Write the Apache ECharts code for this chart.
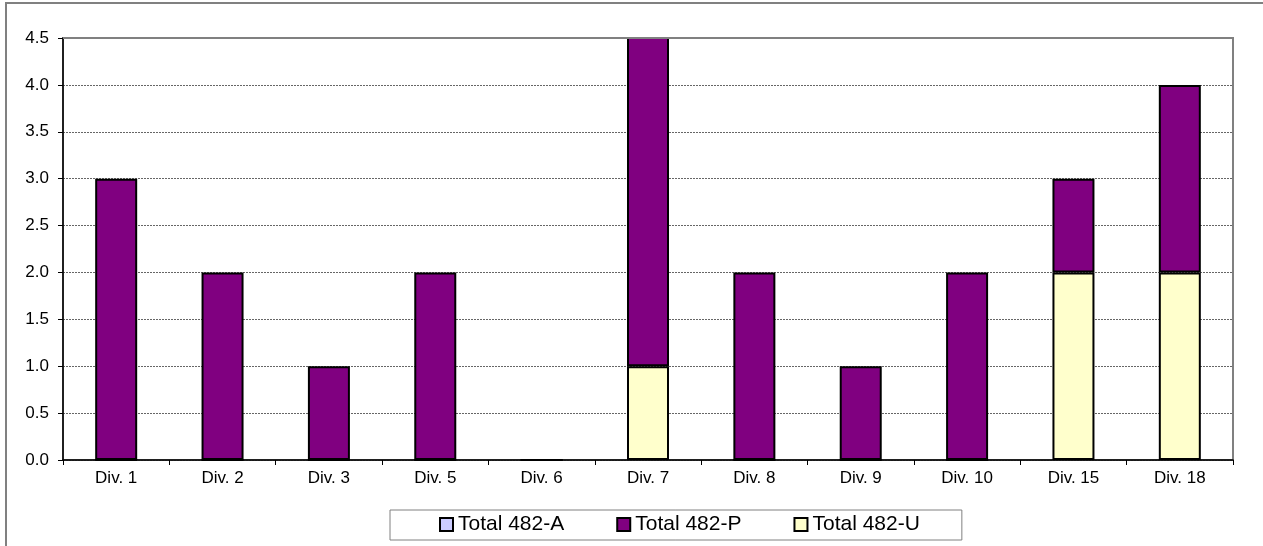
<!DOCTYPE html>
<html>
<head>
<meta charset="utf-8">
<script src="https://cdn.jsdelivr.net/npm/echarts@6/dist/echarts.min.js"></script>
<style>
html,body{margin:0;padding:0;background:#fff;}
#chart{width:1263px;height:546px;}
</style>
</head>
<body>
<div id="chart"></div>
<script>
const categories = ['Div. 1','Div. 2','Div. 3','Div. 5','Div. 6','Div. 7','Div. 8','Div. 9','Div. 10','Div. 15','Div. 18'];
const seriesNames = ['Total 482-A','Total 482-P','Total 482-U'];
const valuesA = [0,0,0,0,0,0,0,0,0,0,0];
const valuesP = [3,2,1,2,0,4,2,1,2,1,2];
const valuesU = [0,0,0,0,0,1,0,0,0,2,2];
const yTicks = {min:0, max:4.5, interval:0.5};

const chart = echarts.init(document.getElementById('chart'));
const font = 'Arial, "Liberation Sans", sans-serif';
const barCommon = {type:'bar', stack:'total', barWidth:42, clip:true};
chart.setOption({
  animation:false,
  backgroundColor:'#fff',
  graphic:[
    {type:'rect', shape:{x:6, y:3, width:1400, height:700}, style:{fill:'none', stroke:'#808080', lineWidth:2}, silent:true},
    {type:'line', shape:{x1:63, y1:38, x2:1233, y2:38}, style:{stroke:'#808080', lineWidth:2}, z:100, silent:true}
  ],
  grid:{left:63, right:30, top:38, bottom:86, show:true, borderColor:'#808080', borderWidth:2, backgroundColor:'transparent'},
  legend:{
    left:390, top:510,
    padding:[4,42,5,49],
    itemGap:52, itemWidth:13, itemHeight:13,
    borderColor:'#808080', borderWidth:1,
    icon:'rect',
    textStyle:{fontFamily:font, fontSize:21, color:'#000'},
    data:[
      {name:seriesNames[0], itemStyle:{color:'#CCCCFF', borderColor:'#000', borderWidth:2}},
      {name:seriesNames[1], itemStyle:{color:'#800080', borderColor:'#000', borderWidth:2}},
      {name:seriesNames[2], itemStyle:{color:'#FFFFCC', borderColor:'#000', borderWidth:2}}
    ]
  },
  xAxis:{
    type:'category', data:categories,
    axisLine:{lineStyle:{color:'#000', width:1.5}},
    axisTick:{show:true, length:5, lineStyle:{color:'#000', width:1}},
    axisLabel:{fontFamily:font, fontSize:17, color:'#000', margin:10, interval:0},
    splitLine:{show:false}
  },
  yAxis:{
    type:'value', min:yTicks.min, max:yTicks.max, interval:yTicks.interval,
    axisLine:{show:true, lineStyle:{color:'#000', width:1.5}},
    axisTick:{show:true, length:5, lineStyle:{color:'#000', width:1}},
    axisLabel:{fontFamily:font, fontSize:17, color:'#000', margin:14, formatter:v=>v.toFixed(1)},
    splitLine:{show:true, lineStyle:{color:'#666', width:1, type:[2,1]}}
  },
  series:[
    Object.assign({}, barCommon, {name:seriesNames[0], data:valuesA, itemStyle:{color:'#CCCCFF', borderColor:'#000', borderWidth:0}}),
    Object.assign({}, barCommon, {name:seriesNames[2], data:valuesU, itemStyle:{color:'#FFFFCC', borderColor:'#000', borderWidth:2}}),
    Object.assign({}, barCommon, {name:seriesNames[1], data:valuesP, itemStyle:{color:'#800080', borderColor:'#000', borderWidth:2}})
  ]
});
</script>
</body>
</html>
